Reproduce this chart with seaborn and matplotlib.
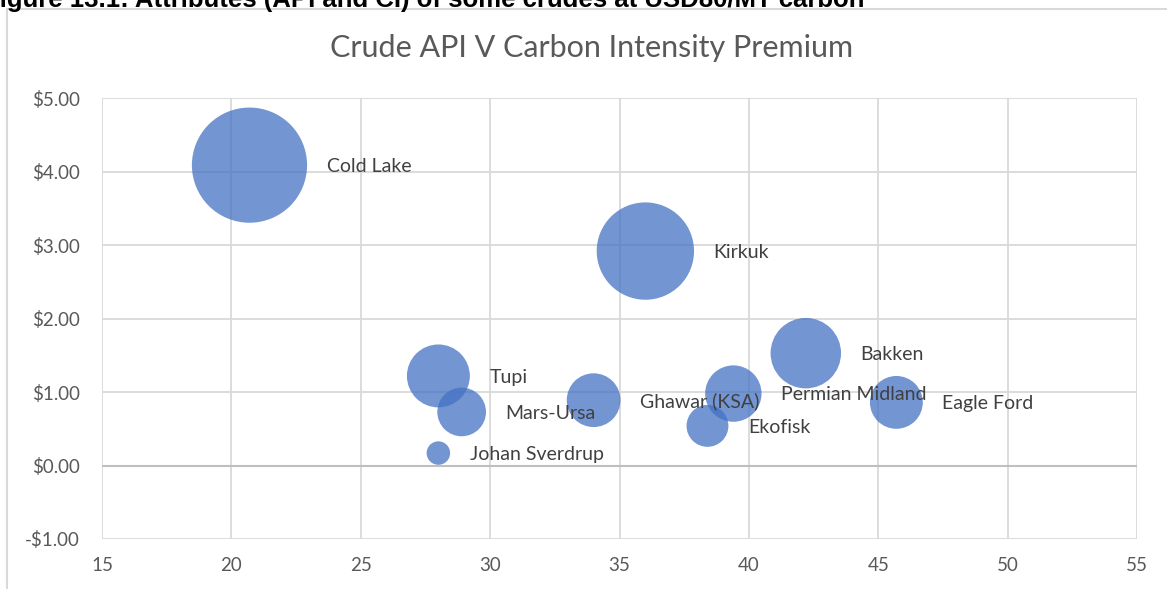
import matplotlib
matplotlib.use("Agg")
import matplotlib.pyplot as plt
import matplotlib.ticker as mticker
from matplotlib.patches import Rectangle
import pandas as pd
import seaborn as sns

# Crude grades: API gravity vs carbon-intensity premium (USD/bbl); bubble area = premium
crudes = ["Cold Lake", "Kirkuk", "Bakken", "Tupi", "Mars-Ursa", "Johan Sverdrup",
          "Ghawar (KSA)", "Permian Midland", "Ekofisk", "Eagle Ford"]
api = [20.7, 36.0, 42.2, 28.0, 28.9, 28.0, 34.0, 39.4, 38.4, 45.7]
premium = [4.09, 2.92, 1.53, 1.22, 0.73, 0.17, 0.89, 0.98, 0.54, 0.86]

x_ticks = [15, 20, 25, 30, 35, 40, 45, 50, 55]
y_ticks = [-1, 0, 1, 2, 3, 4, 5]

title = "Crude API V Carbon Intensity Premium"
caption = "Figure 13.1: Attributes (API and CI) of some crudes at USD80/MT carbon"

df = pd.DataFrame({"crude": crudes, "api": api, "premium": premium})

sns.set_theme(style="white")
plt.rcParams["font.family"] = ["Lato", "DejaVu Sans"]

W, H, DPI = 1167, 589, 100
fig = plt.figure(figsize=(W / DPI, H / DPI), dpi=DPI)
ax = fig.add_axes([102 / W, 1 - 539 / H, (1137 - 102) / W, (539 - 98.3) / H])

bubble_color = "#4472C4"
max_diam_pt = 2 * 57.6 * 72 / DPI          # diameter of the largest bubble in points
max_area = max_diam_pt ** 2
pmax = max(premium)

sns.scatterplot(data=df, x="api", y="premium", size="premium",
                sizes=(0, max_area), size_norm=(0, pmax),
                color=bubble_color, alpha=0.75, edgecolor="none",
                legend=False, ax=ax, zorder=3)

# data labels to the right of each bubble
for name, xv, yv in zip(crudes, api, premium):
    r_pt = (max_area * yv / pmax) ** 0.5 / 2
    ax.annotate(name, (xv, yv), xytext=(r_pt + 14, -1), textcoords="offset points",
                ha="left", va="center", fontsize=14, color="#404040", zorder=4)

ax.set_xlim(15, 55)
ax.set_ylim(-1, 5)
ax.set_xticks(x_ticks)
ax.set_yticks(y_ticks)
ax.yaxis.set_major_formatter(mticker.FuncFormatter(
    lambda v, p: f"-${abs(v):.2f}" if v < 0 else f"${v:.2f}"))
ax.tick_params(axis="both", length=0, labelsize=13.5, labelcolor="#595959")
ax.tick_params(axis="y", pad=16)
ax.tick_params(axis="x", pad=13)
ax.grid(True, color="#d9d9d9", linewidth=1.3, zorder=0)
ax.set_axisbelow(True)
for s in ax.spines.values():
    s.set_visible(False)
ax.axhline(0, color="#bfbfbf", linewidth=1.5, zorder=1)
ax.set_xlabel("")
ax.set_ylabel("")

fig.text(592 / W, 1 - 48 / H, title, ha="center", va="center",
         fontsize=22, color="#595959")

# chart-area border
fig.patches.append(Rectangle((7 / W, -0.1), 1.2, 1 - 9 / H + 0.1,
                             transform=fig.transFigure, fill=False,
                             edgecolor="#d9d9d9", linewidth=1.5))

# figure caption running off the top edge
fig.text(-16 / W, 1 - 7 / H, caption, ha="left", va="baseline",
         fontsize=18.5, fontweight="bold", family="Liberation Sans", color="black")

fig.savefig("out.png", dpi=DPI)
